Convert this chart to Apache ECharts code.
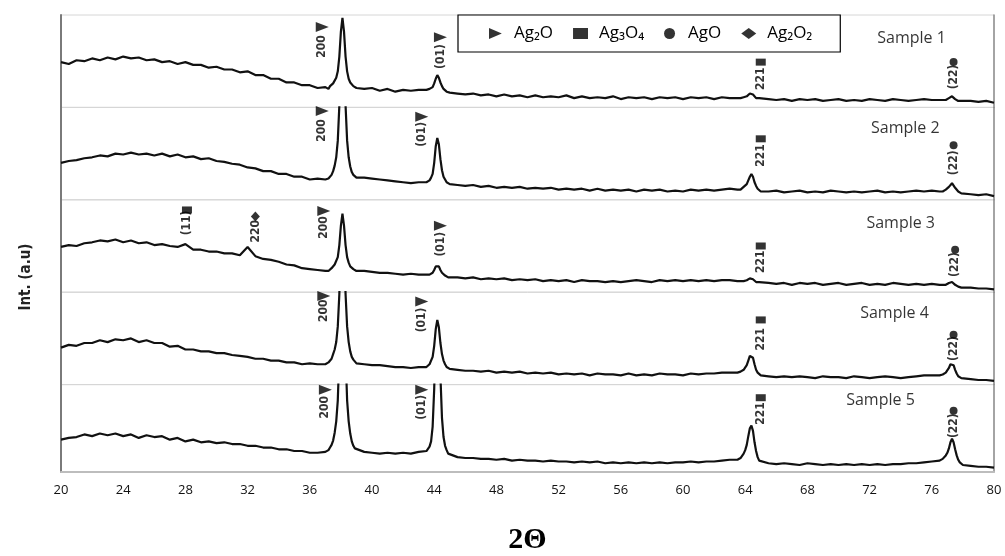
<!DOCTYPE html>
<html><head><meta charset="utf-8">
<script src="https://cdn.jsdelivr.net/npm/echarts@6/dist/echarts.min.js"></script>
<style>html,body{margin:0;padding:0;background:#fff}#chart{width:1005px;height:556px}</style>
</head><body><div id="chart"></div>
<script>
// 2θ sampling positions (denser around the reflections)
const twoTheta = [
 20,20.5,21,21.5,22,22.5,23,23.5,24,24.5,25,25.5,26,26.5,27,27.5,28,28.5,29,29.5,30,30.5,31,31.5,32,32.5,33,33.5,34,34.5,35,35.5,36,36.5,
 37,37.1,37.2,37.3,37.4,37.5,37.6,37.7,37.8,37.9,38,38.1,38.2,38.3,38.4,38.5,38.6,38.7,38.8,38.9,39,
 39.5,40,40.5,41,41.5,42,42.5,43,
 43.5,43.6,43.7,43.8,43.9,44,44.1,44.2,44.3,44.4,44.5,44.6,44.7,44.8,44.9,45,
 45.5,46,46.5,47,47.5,48,48.5,49,49.5,50,50.5,51,51.5,52,52.5,53,53.5,54,54.5,55,55.5,56,56.5,57,57.5,58,58.5,59,59.5,60,60.5,61,61.5,62,62.5,63,
 63.5,63.6,63.7,63.8,63.9,64,64.1,64.2,64.3,64.4,64.5,64.6,64.7,64.8,64.9,65,
 65.5,66,66.5,67,67.5,68,68.5,69,69.5,70,70.5,71,71.5,72,72.5,73,73.5,74,74.5,75,75.5,76,
 76.5,76.6,76.7,76.8,76.9,77,77.1,77.2,77.3,77.4,77.5,77.6,77.7,77.8,77.9,78,
 78.5,79,79.5,80
];
// intensities (a.u., each pattern on its own 0-100 panel scale)
const sample1 = [
 49,47,51,50,53,51,54,52,55,53,54,51,52,49,50,47,49,46,46,43,44,41,41,38,39,35,35,31,31,27,27,24,24,21,
 22,22,20,23,23,26,27,32,39,55,82,97,82,55,39,31,27,25,23,22,21,
 20,21,18,20,17,19,18,19,
 19,18,20,20,22,26,31,35,32,27,23,20,19,17,17,16,
 15,14,15,13,14,12,14,12,13,11,13,11,12,11,13,10,12,10,11,10,12,9,11,10,11,9,11,10,11,9,11,10,11,9,11,10,
 10,11,10,11,11,12,12,13,15,16,14,12,10,9,10,9,
 9,8,9,7,9,8,9,7,8,9,7,8,7,9,8,7,9,8,7,8,9,8,
 8,9,8,9,8,9,10,11,12,10,9,8,7,8,7,7,
 7,6,7,5
];
const sample2 = [
 40,42,43,45,46,48,47,50,49,51,49,50,48,50,47,49,46,47,44,45,42,41,39,38,35,34,31,31,28,28,25,25,22,23,
 22,21,23,24,27,31,37,46,64,102,165,200,165,102,64,46,36,30,27,25,24,
 24,23,22,21,20,19,18,19,
 19,20,21,24,28,40,58,67,60,44,32,25,22,19,18,17,
 16,15,16,14,15,13,14,13,14,12,13,12,13,11,12,11,12,10,12,10,11,10,11,9,11,10,11,9,10,9,11,10,11,10,11,12,
 11,12,11,13,14,15,17,21,25,28,25,19,15,12,10,9,
 9,10,8,9,10,8,9,8,10,9,8,9,8,9,10,8,9,8,9,10,9,10,
 9,10,9,10,11,12,14,16,18,16,13,11,9,8,7,8,
 6,5,6,4
];
const sample3 = [
 49,51,50,53,54,56,55,57,54,56,53,54,51,52,50,49,52,46,46,44,44,42,42,40,49,39,36,35,33,30,29,26,25,24,
 23,24,23,25,26,28,30,32,38,51,72,85,72,51,38,32,28,26,25,24,23,
 23,22,21,21,20,19,20,19,
 19,18,19,20,21,24,28,30,28,24,21,19,18,17,16,17,
 16,15,16,14,15,14,15,13,14,13,14,12,13,12,13,11,13,12,12,11,12,11,12,13,12,11,13,12,13,12,13,12,13,12,13,13,
 12,13,12,13,12,13,13,14,15,15,14,12,11,10,11,10,
 10,9,10,8,10,9,10,8,9,10,8,9,10,8,9,8,10,9,8,9,8,9,
 8,9,8,9,8,9,10,11,11,10,8,7,6,7,5,6,
 5,4,4,3
];
const sample4 = [
 40,43,42,45,45,48,46,49,48,50,46,48,45,45,41,42,38,38,36,36,34,34,32,31,30,28,28,26,26,24,24,22,23,22,
 22,23,24,26,28,33,38,46,63,98,158,195,158,98,63,46,36,30,27,25,23,
 22,21,21,20,19,19,18,19,
 19,20,22,24,30,42,60,70,62,45,33,26,22,19,17,17,
 16,15,15,14,15,13,14,13,14,12,13,12,13,11,12,11,12,10,12,11,11,10,12,10,11,10,12,11,11,10,12,11,12,12,13,13,
 13,13,14,15,16,18,21,26,31,33,29,22,16,13,11,10,
 9,8,9,8,9,8,7,9,8,8,7,9,8,7,8,9,8,7,8,9,10,10,
 10,11,11,12,13,15,18,22,24,21,16,12,9,8,7,7,
 6,5,5,4
];
const sample5 = [
 37,39,40,43,41,44,42,44,41,43,39,42,40,41,37,39,35,37,34,35,33,34,32,32,30,30,28,28,26,26,24,24,22,22,
 23,24,25,28,31,36,45,58,82,135,222,272,222,135,82,58,44,35,30,27,25,
 23,22,21,22,21,22,21,23,
 24,26,29,35,52,95,165,215,190,110,62,40,30,25,21,19,
 17,16,16,15,15,14,15,13,14,13,13,12,13,12,12,11,12,11,12,10,11,10,11,10,11,10,11,10,11,11,12,11,12,12,13,14,
 14,15,16,18,21,25,31,41,50,53,47,34,24,17,13,11,
 10,9,10,9,8,10,9,8,9,8,9,8,9,8,9,8,9,9,10,10,11,12,
 13,14,15,17,19,22,27,34,38,34,26,19,14,11,9,8,
 7,6,6,5
];
const samples = [sample1, sample2, sample3, sample4, sample5];
const sampleNames = ['Sample 1', 'Sample 2', 'Sample 3', 'Sample 4', 'Sample 5'];
const xTickValues = [20,24,28,32,36,40,44,48,52,56,60,64,68,72,76,80];
const phases = ['Ag₂O', 'Ag₃O₄', 'AgO', 'Ag₂O₂'];

// reflection annotations: [hkl text, phase, 2θ, text level, marker level]
const notes1 = [['200','Ag₂O',36.8,66,87],['(01)','Ag₂O',44.4,55,76],['221','Ag₃O₄',65.0,31,49],['(22)','AgO',77.4,33,49]];
const notes2 = [['200','Ag₂O',36.8,75,96],['(01)','Ag₂O',43.2,71,90],['221','Ag₃O₄',65.0,48,66],['(22)','AgO',77.4,40,59]];
const notes3 = [['(11)','Ag₃O₄',28.1,75,89],['220','Ag₂O₂',32.5,66,82],['200','Ag₂O',36.9,70,88],['(01)','Ag₂O',44.4,52,72],['221','Ag₃O₄',65.0,33,50],['(22)','AgO',77.5,30,46]];
const notes4 = [['200','Ag₂O',36.9,80,96],['(01)','Ag₂O',43.2,70,90],['221','Ag₃O₄',65.0,49,70],['(22)','AgO',77.4,39,54]];
const notes5 = [['200','Ag₂O',37.0,74,94],['(01)','Ag₂O',43.2,74,94],['221','Ag₃O₄',65.0,67,85],['(22)','AgO',77.4,53,70]];
const notes = [notes1, notes2, notes3, notes4, notes5];
// sample name anchor [2θ, level]
const sampleNamePos = [[74.7,75],[74.3,77],[74.0,74],[73.6,77],[72.7,82]];

// ---------- layout / styles ----------
const TOP = 15, PANEL_H = 92.4, LEFT = 61, RIGHT = 11;
const phaseSymbol = {
  'Ag₂O':  {symbol:'path://M0,0L12,5L0,10Z', size:[13,10]},
  'Ag₃O₄': {symbol:'rect', size:[10,7]},
  'AgO':   {symbol:'circle', size:8},
  'Ag₂O₂': {symbol:'diamond', size:[9,10]}
};
const legendIcon = {'Ag₂O':'path://M0,0L14,6L0,12Z','Ag₃O₄':'rect','AgO':'circle','Ag₂O₂':'diamond'};

const grid = [], xAxis = [], yAxis = [], series = [];
samples.forEach((s, i) => {
  grid.push({left: LEFT, right: RIGHT, top: TOP + i * PANEL_H, height: PANEL_H,
    show: true, borderColor: '#d6d6d6', borderWidth: 1});
  const last = i === samples.length - 1;
  xAxis.push({type: 'value', gridIndex: i, min: 20, max: 80, interval: 4, show: last,
    axisLine: {show: true, lineStyle: {color: '#bdbdbd', width: 2}},
    axisTick: {show: false}, splitLine: {show: false},
    axisLabel: {show: last, color: '#111', fontSize: 13, fontFamily: '"Open Sans", sans-serif', margin: 12,
      customValues: xTickValues},
    name: last ? '2Θ' : '', nameLocation: 'middle', nameGap: 53,
    nameTextStyle: {fontFamily: '"Liberation Serif", "DejaVu Serif", serif', fontWeight: 'bold', fontSize: 30, color: '#000'}
  });
});
samples.forEach((s, i) => {
  yAxis.push({type: 'value', gridIndex: i, min: 0, max: 100, position: 'left',
    axisLine: {show: true, lineStyle: {color: '#7a7a7a', width: 2}},
    axisTick: {show: false}, axisLabel: {show: false}, splitLine: {show: false}});
});
samples.forEach((s, i) => {
  yAxis.push({type: 'value', gridIndex: i, min: 0, max: 100, position: 'right',
    axisLine: {show: true, lineStyle: {color: '#8c8c8c', width: 1.5}},
    axisTick: {show: false}, axisLabel: {show: false}, splitLine: {show: false}});
});

samples.forEach((s, i) => {
  series.push({type: 'line', xAxisIndex: i, yAxisIndex: i, clip: true,
    data: twoTheta.map((t, j) => [t, s[j]]), showSymbol: false, smooth: false,
    lineStyle: {color: '#111', width: 2.2}, silent: true, z: 2});
  phases.forEach(p => {
    const items = notes[i].filter(n => n[1] === p);
    if (!items.length) return;
    series.push({type: 'scatter', name: p, xAxisIndex: i, yAxisIndex: i,
      symbol: phaseSymbol[p].symbol, symbolSize: phaseSymbol[p].size,
      itemStyle: {color: '#000'}, silent: true, z: 3,
      data: items.map(n => [n[2], n[4]])});
  });
  series.push({type: 'scatter', xAxisIndex: i, yAxisIndex: i, symbolSize: 0, silent: true, z: 4,
    data: notes[i].map(n => ({value: [n[2], n[3]], name: n[0]})),
    label: {show: true, position: 'inside', rotate: 90, formatter: '{b}', color: '#000', fontWeight: 'bold',
      fontSize: 12, fontFamily: '"Liberation Sans Narrow", "DejaVu Sans Condensed", sans-serif'}});
  series.push({type: 'scatter', xAxisIndex: i, yAxisIndex: i, symbolSize: 0, silent: true, z: 4,
    data: [{value: sampleNamePos[i], name: sampleNames[i]}],
    label: {show: true, position: 'inside', formatter: '{b}', color: '#000',
      fontSize: 16, fontFamily: '"Open Sans", sans-serif'}});
});

const chart = echarts.init(document.getElementById('chart'), null, {renderer: 'canvas'});
chart.setOption({
  animation: false,
  backgroundColor: '#fff',
  grid, xAxis, yAxis, series,
  legend: {
    data: phases.map(p => ({name: p, icon: legendIcon[p]})),
    left: 458, top: 15, orient: 'horizontal', selectedMode: false,
    itemWidth: 15, itemHeight: 11, itemGap: 20,
    padding: [10, 28, 10, 31], borderColor: '#000', borderWidth: 1.2, backgroundColor: '#fff',
    textStyle: {fontSize: 17, color: '#000', fontFamily: '"Open Sans", sans-serif', padding: [0, 0, 0, 6]}
  },
  graphic: [{type: 'text', x: 26, y: 277, rotation: Math.PI / 2,
    style: {text: 'Int. (a.u)', fill: '#222', textAlign: 'center', textVerticalAlign: 'middle',
      font: 'bold 15px "Liberation Sans Narrow", "DejaVu Sans Condensed", sans-serif'}}]
});
</script></body></html>
